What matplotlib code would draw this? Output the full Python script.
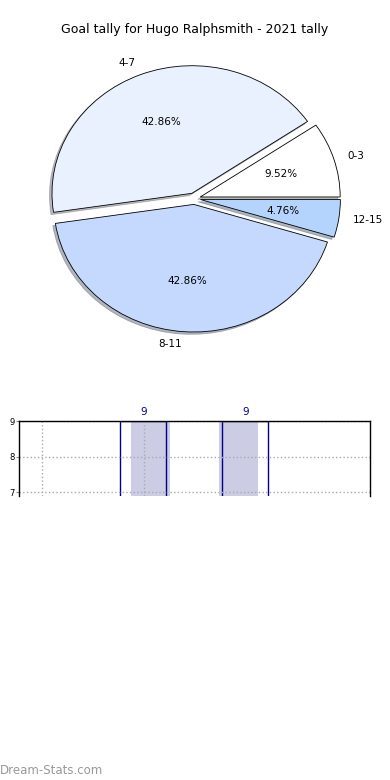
import numpy as np
import matplotlib
matplotlib.use("Agg")
import matplotlib.pyplot as plt

labels = ["0-3", "4-7", "8-11", "12-15"]
goals = [2, 9, 9, 1]
colours = ["#ffffff", "#eaf1fe", "#c5d8fe", "#b4d4fe"]

bar_pos = [1, 2]
bar_vals = [9, 9]

fig = plt.figure(figsize=(3.9, 7.8), dpi=100)

# pie
ax1 = fig.add_axes([0.0495, 0.5408, 0.897, 0.409])
wedges, texts, autotexts = ax1.pie(goals, labels=labels, colors=colours, autopct="%1.2f%%",
                                   explode=[0.045] * 4, startangle=0,
                                   shadow={"ox": -0.013, "oy": -0.013, "shade": 0.5},
                                   wedgeprops=dict(edgecolor="black", linewidth=0.6),
                                   textprops=dict(fontsize=7.5))
ax1.set_aspect("auto")
ax1.set_xlim(-1.25, 1.25)
ax1.set_ylim(-1.25, 1.25)
fig.text(0.5, 0.962, "Goal tally for Hugo Ralphsmith - 2021 tally", ha="center", va="center", fontsize=9)

# bars
ax2 = fig.add_axes([0.0487, 0.364, 0.9, 0.0962])
ax2.bar([p + 0.064 for p in bar_pos[:1]] + [p - 0.074 for p in bar_pos[1:]], bar_vals,
        width=0.38, color="#ccccE5", edgecolor="none", zorder=1)
ax2.bar([p - 0.01 for p in bar_pos], bar_vals, width=0.45, fill=False,
        edgecolor="#00008b", linewidth=1.0, zorder=2.2)
for p, v in zip(bar_pos, bar_vals):
    ax2.text(p, v + 0.12, str(v), ha="center", va="bottom", fontsize=7.5, color="#00008b")
ax2.set_xlim(-0.2255, 3.216)
ax2.set_ylim(6.89, 9)
ax2.set_xticks([0, 1])
ax2.set_xticklabels([])
ax2.set_yticks([7, 8, 9])
ax2.tick_params(axis="y", labelsize=6, length=2, pad=1, color="#888888")
ax2.tick_params(axis="x", length=0)
ax2.grid(True, linestyle=":", color="#aaaaaa", linewidth=1.0, zorder=2)
ax2.set_axisbelow(False)
ax2.spines["bottom"].set_visible(False)
for s in ["top", "left", "right"]:
    ax2.spines[s].set_linewidth(1.0)
    ax2.spines[s].set_zorder(3)

fig.text(0.0, 0.004, "Dream-Stats.com", fontsize=8.5, color="#999999", ha="left", va="bottom")

fig.savefig("out.png", dpi=100)
